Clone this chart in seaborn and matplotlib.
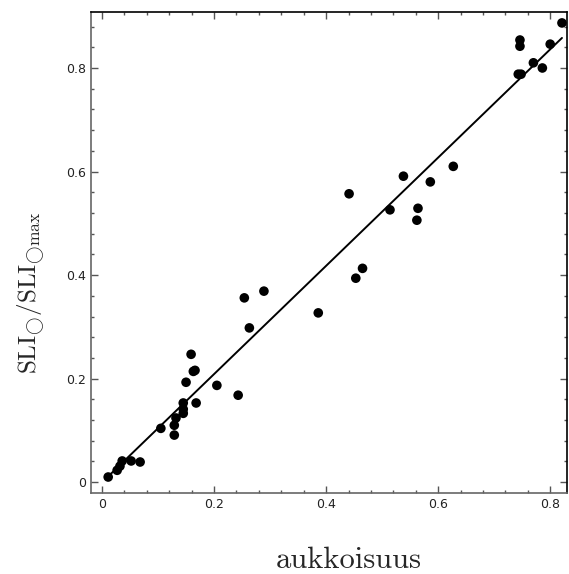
"""Scatter of SLI ratio against aukkoisuus with linear fit."""

import matplotlib

matplotlib.use("Agg")
import matplotlib.pyplot as plt
import pandas as pd
import seaborn as sns

aukkoisuus = [
    0.011, 0.027, 0.032, 0.036, 0.052, 0.068, 0.105, 0.129, 0.129, 0.132,
    0.145, 0.145, 0.145, 0.168, 0.150, 0.205, 0.163, 0.166, 0.159, 0.243,
    0.263, 0.254, 0.289, 0.386, 0.465, 0.453, 0.441, 0.538, 0.586, 0.627,
    0.514, 0.564, 0.562, 0.821, 0.746, 0.746, 0.800, 0.770, 0.786, 0.743,
    0.748,
]
sli_ratio = [
    0.010, 0.023, 0.031, 0.041, 0.041, 0.039, 0.104, 0.091, 0.110, 0.124,
    0.133, 0.141, 0.153, 0.153, 0.193, 0.187, 0.214, 0.216, 0.247, 0.168,
    0.298, 0.356, 0.369, 0.327, 0.413, 0.394, 0.557, 0.591, 0.580, 0.610,
    0.526, 0.529, 0.506, 0.887, 0.854, 0.842, 0.846, 0.810, 0.800, 0.788,
    0.788,
]

# Fitted line end points
fit_x = [0.007, 0.821]
fit_y = [0.007, 0.858]

x_ticks = [0, 0.2, 0.4, 0.6, 0.8]
y_ticks = [0, 0.2, 0.4, 0.6, 0.8]
tick_labels = ["0", "0.2", "0.4", "0.6", "0.8"]

df = pd.DataFrame({"aukkoisuus": aukkoisuus, "sli": sli_ratio})
fit = pd.DataFrame({"x": fit_x, "y": fit_y})

sns.set_style("ticks")
plt.rcParams["mathtext.fontset"] = "cm"

fig = plt.figure(figsize=(5.69, 5.74), dpi=100)
ax = fig.add_axes([0.16, 0.141, 0.8365, 0.838])

sns.lineplot(data=fit, x="x", y="y", color="black", linewidth=1.4, ax=ax)
sns.scatterplot(
    data=df, x="aukkoisuus", y="sli", color="black", s=48,
    edgecolor="none", ax=ax, zorder=3,
)

ax.set_xlim(-0.0196, 0.830)
ax.set_ylim(-0.021, 0.908)
ax.set_xticks(x_ticks)
ax.set_xticklabels(tick_labels)
ax.set_yticks(y_ticks)
ax.set_yticklabels(tick_labels)
ax.xaxis.set_minor_locator(matplotlib.ticker.MultipleLocator(0.04))
ax.yaxis.set_minor_locator(matplotlib.ticker.MultipleLocator(0.04))
ax.tick_params(which="both", direction="in", top=True, right=True,
               colors="#555555", labelcolor="#222222", labelsize=9)
ax.tick_params(which="major", length=5, width=1)
ax.tick_params(which="minor", length=2.5, width=1)

for side in ["left", "bottom"]:
    ax.spines[side].set_color("#666666")
for side in ["top", "right"]:
    ax.spines[side].set_color("black")
for sp in ax.spines.values():
    sp.set_linewidth(1.2)

ax.set_xlabel("aukkoisuus", family="cmr10", fontsize=22, labelpad=26)
ax.xaxis.label.set_x(0.542)
ax.set_ylabel(r"$\mathrm{SLI}_{\bigcirc}/\mathrm{SLI}_{\bigcirc\mathrm{max}}$",
              fontsize=18, labelpad=14)
ax.yaxis.label.set_y(0.416)

plt.savefig("out.png", dpi=100)
plt.close()
